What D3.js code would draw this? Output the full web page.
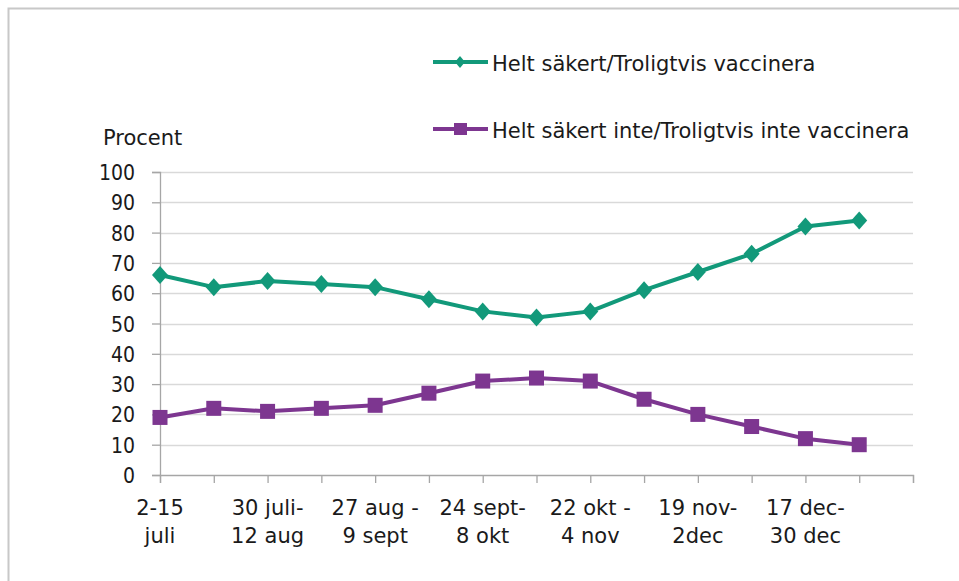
<!DOCTYPE html>
<html>
<head>
<meta charset="utf-8">
<script src="https://cdn.jsdelivr.net/npm/d3@7"></script>
<style>
  body { margin: 0; background: white; }
  text { font-family: "DejaVu Sans", sans-serif; fill: #1a1a1a; }
</style>
</head>
<body>
<script>
// categories (last one is an empty slot, as in the original chart)
var categories = ["c0","c1","c2","c3","c4","c5","c6","c7","c8","c9","c10","c11","c12","c13","c14"];
var tickLabels = [
  ["2-15", "juli"], null, ["30 juli-", "12 aug"], null, ["27 aug -", "9 sept"], null,
  ["24 sept-", "8 okt"], null, ["22 okt -", "4 nov"], null, ["19 nov-", "2dec"], null,
  ["17 dec-", "30 dec"], null, null
];
var vaccinera = [66, 62, 64, 63, 62, 58, 54, 52, 54, 61, 67, 73, 82, 84];
var inteVaccinera = [19, 22, 21, 22, 23, 27, 31, 32, 31, 25, 20, 16, 12, 10];
var yTicks = [0, 10, 20, 30, 40, 50, 60, 70, 80, 90, 100];

var width = 959, height = 581;
var margin = { top: 172, bottom: 106, left: 160, right: 46 };
var green = "#12997a", purple = "#7d3690";
var fontSize = "21px";

var svg = d3.select("body").append("svg")
  .attr("width", width)
  .attr("height", height);

// outer frame (only top + left visible)
svg.append("path")
  .attr("d", "M8.5," + height + "V8.5H" + width)
  .attr("fill", "none")
  .attr("stroke", "#c8c8c8")
  .attr("stroke-width", 2);

var x = d3.scalePoint()
  .domain(categories)
  .range([margin.left, width - margin.right]);

var y = d3.scaleLinear()
  .domain([0, 100])
  .range([height - margin.bottom, margin.top]);

// gridlines
svg.append("g")
  .selectAll("line")
  .data(yTicks.slice(1))
  .enter().append("line")
  .attr("x1", margin.left)
  .attr("x2", width - margin.right)
  .attr("y1", function(d) { return Math.round(y(d)) + 0.5; })
  .attr("y2", function(d) { return Math.round(y(d)) + 0.5; })
  .attr("stroke", "#d9d9d9")
  .attr("stroke-width", 1.3);

// y axis
var yAxis = svg.append("g")
  .attr("transform", "translate(" + margin.left + ",0)")
  .call(d3.axisLeft(y).tickValues(yTicks).tickSize(8).tickPadding(17));
yAxis.selectAll("text")
  .style("font-size", fontSize)
  .style("font-family", "'DejaVu Sans Condensed', 'DejaVu Sans', sans-serif")
  .attr("dy", "0.36em");

// x axis
var xAxis = svg.append("g")
  .attr("transform", "translate(0," + y(0) + ")")
  .call(d3.axisBottom(x).tickSize(8).tickFormat(""));

svg.selectAll(".domain, .tick line")
  .attr("stroke", "#a6a6a6")
  .attr("stroke-width", 1.3);

// two-line category labels
svg.append("g")
  .selectAll("text")
  .data(categories.filter(function(c, i) { return tickLabels[i]; }))
  .enter().append("text")
  .attr("text-anchor", "middle")
  .style("font-size", fontSize)
  .attr("transform", function(d) { return "translate(" + x(d) + ",0)"; })
  .each(function(d) {
    var lines = tickLabels[categories.indexOf(d)];
    d3.select(this).selectAll("tspan")
      .data(lines)
      .enter().append("tspan")
      .attr("x", 0)
      .attr("y", function(l, i) { return 515 + i * 28; })
      .text(function(l) { return l; });
  });

// y label
svg.append("text")
  .attr("x", 103)
  .attr("y", 145)
  .style("font-size", fontSize)
  .text("Procent");

// lines
var line = d3.line()
  .x(function(d, i) { return x(categories[i]); })
  .y(function(d) { return y(d); });

svg.append("path")
  .datum(vaccinera)
  .attr("d", line)
  .attr("fill", "none")
  .attr("stroke", green)
  .attr("stroke-width", 4)
  .attr("stroke-linejoin", "round");

svg.append("path")
  .datum(inteVaccinera)
  .attr("d", line)
  .attr("fill", "none")
  .attr("stroke", purple)
  .attr("stroke-width", 4)
  .attr("stroke-linejoin", "round");

// markers
var diamond = "M0,-9L8,0L0,9L-8,0Z";
svg.append("g")
  .selectAll("path")
  .data(vaccinera)
  .enter().append("path")
  .attr("d", diamond)
  .attr("fill", green)
  .attr("transform", function(d, i) { return "translate(" + x(categories[i]) + "," + y(d) + ")"; });

svg.append("g")
  .selectAll("rect")
  .data(inteVaccinera)
  .enter().append("rect")
  .attr("x", function(d, i) { return x(categories[i]) - 7.5; })
  .attr("y", function(d) { return y(d) - 7.5; })
  .attr("width", 15)
  .attr("height", 15)
  .attr("fill", purple);

// Legend
var legendX = 433, legendTextX = 492;
svg.append("line").attr("x1", legendX).attr("x2", legendX + 55).attr("y1", 62).attr("y2", 62)
  .attr("stroke", green).attr("stroke-width", 4);
svg.append("path").attr("d", "M0,-6L5,0L0,6L-5,0Z").attr("fill", green)
  .attr("transform", "translate(" + (legendX + 27) + ",62)");
svg.append("text").attr("x", legendTextX).attr("y", 71).style("font-size", fontSize)
  .text("Helt säkert/Troligtvis vaccinera");

svg.append("line").attr("x1", legendX).attr("x2", legendX + 55).attr("y1", 129).attr("y2", 129)
  .attr("stroke", purple).attr("stroke-width", 4);
svg.append("rect").attr("x", legendX + 21).attr("y", 123).attr("width", 13).attr("height", 12).attr("fill", purple);
svg.append("text").attr("x", legendTextX).attr("y", 138).style("font-size", fontSize)
  .text("Helt säkert inte/Troligtvis inte vaccinera");
</script>
</body>
</html>
